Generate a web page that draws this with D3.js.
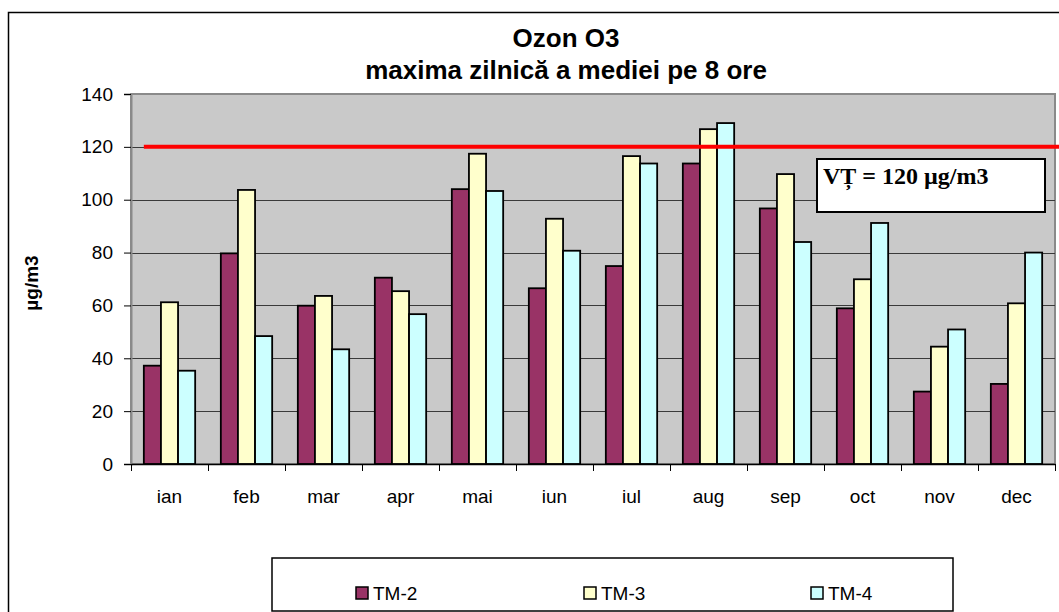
<!DOCTYPE html>
<html>
<head>
<meta charset="utf-8">
<script src="https://cdn.jsdelivr.net/npm/d3@7"></script>
<style>
  html, body { margin: 0; padding: 0; background: #fff; }
  svg { display: block; }
  text { fill: #000; }
</style>
</head>
<body>
<svg id="chart" width="1059" height="612"></svg>
<script>
// ---- data ----
const months = ["ian", "feb", "mar", "apr", "mai", "iun", "iul", "aug", "sep", "oct", "nov", "dec"];
const seriesNames = ["TM-2", "TM-3", "TM-4"];
const tm2 = [37.2, 79.7, 59.9, 70.5, 104.0, 66.5, 74.9, 113.7, 96.7, 58.9, 27.4, 30.3];
const tm3 = [61.2, 103.7, 63.6, 65.4, 117.4, 92.8, 116.5, 126.7, 109.7, 69.9, 44.4, 60.8];
const tm4 = [35.3, 48.4, 43.4, 56.7, 103.3, 80.7, 113.7, 129.0, 84.0, 91.2, 50.9, 80.0];
const seriesColors = ["#993366", "#FFFFCC", "#CCFFFF"];
const yTicks = [0, 20, 40, 60, 80, 100, 120, 140];
const limitValue = 120;
const limitLabel = "VȚ = 120 µg/m3";
const titleLines = ["Ozon O3", "maxima zilnică a mediei pe 8 ore"];
const yLabel = "µg/m3";

const seriesValues = [tm2, tm3, tm4];
const rows = months.map((m, i) => ({ month: m, vals: seriesNames.map((s, j) => ({ s, v: seriesValues[j][i], c: seriesColors[j] })) }));

const SANS = "'Liberation Sans', Arial, sans-serif";
const SERIF = "'Liberation Serif', 'Times New Roman', serif";

// ---- layout ----
const svg = d3.select("#chart");
const L = 131, R = 1055, T = 94, B = 464;

// outer frame
svg.append("rect").attr("x", 8.5).attr("y", 12.5).attr("width", 1080).attr("height", 640)
  .attr("fill", "#fff").attr("stroke", "#000").attr("stroke-width", 1.5);

const x = d3.scaleBand().domain(months).range([L, R]).paddingInner(0).paddingOuter(0);
const xs = d3.scaleBand().domain(seriesNames).range([0, x.bandwidth()]).paddingInner(0).paddingOuter(0.75);
const y = d3.scaleLinear().domain([0, 140]).range([B, T]);

// plot area
svg.append("rect").attr("x", L).attr("y", T).attr("width", R - L).attr("height", B - T)
  .attr("fill", "#C9C9C9").attr("stroke", "#8a8a8a").attr("stroke-width", 2);

// gridlines
svg.append("g").selectAll("line").data(yTicks.filter(t => t > 0 && t < 140)).join("line")
  .attr("x1", L).attr("x2", R)
  .attr("y1", d => Math.round(y(d)) + 0.5).attr("y2", d => Math.round(y(d)) + 0.5)
  .attr("stroke", "#3a3a3a").attr("stroke-width", 1);

// y axis
const yAxis = svg.append("g").attr("transform", `translate(${L},0)`)
  .call(d3.axisLeft(y).tickValues(yTicks).tickSize(7).tickPadding(11).tickFormat(d3.format("d")));
yAxis.select(".domain").attr("stroke", "#8a8a8a").attr("stroke-width", 2);
yAxis.selectAll(".tick line").attr("stroke", "#000");
yAxis.selectAll("text").attr("font-size", 19).style("font-family", SANS);

// bars
const groups = svg.append("g").selectAll("g").data(rows).join("g")
  .attr("transform", d => `translate(${x(d.month)},0)`);
groups.selectAll("rect").data(d => d.vals).join("rect")
  .attr("x", d => xs(d.s))
  .attr("width", xs.bandwidth())
  .attr("y", d => y(d.v))
  .attr("height", d => y(0) - y(d.v))
  .attr("fill", d => d.c)
  .attr("stroke", "#000").attr("stroke-width", 1.8);

// x axis
const xAxis = svg.append("g").attr("transform", `translate(0,${B})`)
  .call(d3.axisBottom(x).tickSize(0).tickPadding(25.5));
xAxis.select(".domain").attr("stroke", "#000").attr("stroke-width", 1.5);
xAxis.selectAll("text").attr("font-size", 19).style("font-family", SANS);
// category separator ticks
svg.append("g").selectAll("line").data(months.map(m => x(m)).concat([R])).join("line")
  .attr("x1", d => Math.round(d) + 0.5).attr("x2", d => Math.round(d) + 0.5)
  .attr("y1", B).attr("y2", B + 7)
  .attr("stroke", "#000").attr("stroke-width", 1);

// limit line
svg.append("line")
  .attr("x1", x(months[0]) + xs(seriesNames[0])).attr("x2", 1059)
  .attr("y1", y(limitValue)).attr("y2", y(limitValue))
  .attr("stroke", "#FF0000").attr("stroke-width", 4);

// annotation box
svg.append("rect").attr("x", 817).attr("y", 159).attr("width", 228).attr("height", 53)
  .attr("fill", "#fff").attr("stroke", "#000").attr("stroke-width", 2);
svg.append("text").attr("x", 823).attr("y", 184)
  .style("font-family", SERIF)
  .attr("font-weight", "bold").attr("font-size", 24)
  .text(limitLabel);

// title
svg.append("text").attr("x", 566).attr("y", 47).attr("text-anchor", "middle").style("font-family", SANS)
  .attr("font-weight", "bold").attr("font-size", 26).text(titleLines[0]);
svg.append("text").attr("x", 566).attr("y", 79).attr("text-anchor", "middle").style("font-family", SANS)
  .attr("font-weight", "bold").attr("font-size", 26).text(titleLines[1]);

// y label
svg.append("text").attr("transform", "translate(38,283) rotate(-90)").style("font-family", SANS)
  .attr("text-anchor", "middle").attr("font-weight", "bold").attr("font-size", 19)
  .text(yLabel);

// legend
svg.append("rect").attr("x", 272).attr("y", 558).attr("width", 681).attr("height", 53)
  .attr("fill", "#fff").attr("stroke", "#000").attr("stroke-width", 1.5);
const legX = [356, 584, 811];
const leg = svg.append("g").selectAll("g").data(seriesNames).join("g")
  .attr("transform", (d, i) => `translate(${legX[i]},587)`);
leg.append("rect").attr("width", 12).attr("height", 12)
  .attr("fill", (d, i) => seriesColors[i]).attr("stroke", "#000").attr("stroke-width", 1.5);
leg.append("text").attr("x", 17).attr("y", 6).attr("dy", "0.35em").style("font-family", SANS)
  .attr("font-size", 19).text(d => d);
</script>
</body>
</html>
